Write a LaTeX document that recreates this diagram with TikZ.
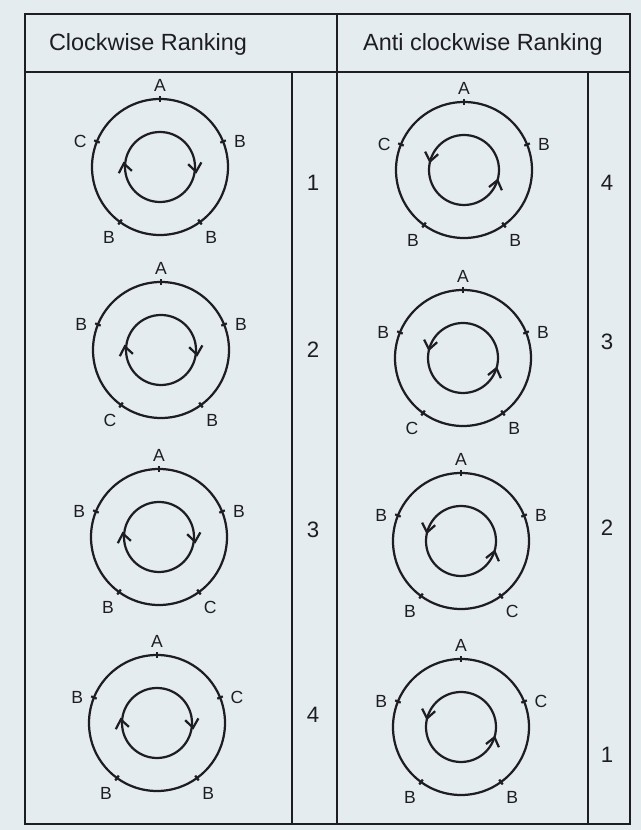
\documentclass[tikz,border=0pt]{standalone}
\usepackage{fontspec}
\setmainfont{Liberation Sans}
\usetikzlibrary{arrows.meta,decorations.markings}
\definecolor{rankink}{RGB}{30,30,34}
\definecolor{rankpaper}{RGB}{228,236,240}

\begin{document}
\begin{tikzpicture}[
      x=0.03cm, y=0.03cm,
      >={Straight Barb[length=2.6mm,width=4mm]},
      frame/.style={draw=rankink, line width=2.1pt},
      ink/.style={draw=rankink, line width=1.9pt},
      lbl/.style={font=\fontsize{15}{18}\selectfont, text=rankink, inner sep=0pt},
      rank/.style={font=\fontsize{19}{22}\selectfont, text=rankink, inner sep=0pt},
      head/.style={font=\fontsize{20}{24}\selectfont, text=rankink, inner sep=0pt},
      cwring/.style={ink, postaction={decorate}, decoration={markings,
        mark=at position 0.022 with {\arrow{<}},
        mark=at position 0.528 with {\arrow{<}}}},
      acwring/.style={ink, postaction={decorate}, decoration={markings,
        mark=at position 0.469 with {\arrow{>}},
        mark=at position 0.961 with {\arrow{>}}}}
    ]
      \useasboundingbox[fill=rankpaper] (0,0) rectangle (641,830);

      % table frame
      \draw[frame] (25,816) rectangle (630,6);
      \draw[frame] (25,758) -- (630,758);
      \draw[frame] (337,816) -- (337,6);
      \draw[frame] (292,758) -- (292,6);
      \draw[frame] (588,758) -- (588,6);

      \node[head] (cwhead) at (148,786) {Clockwise Ranking};
      \node[head] (acwhead) at (483,786) {Anti clockwise Ranking};

      % clockwise column
      \foreach \n/\x/\y/\r/\l/\bl/\br/\ry/\k in {
          cwa/160/663/B/C/B/B/647/1,
          cwb/161/480/B/B/C/B/480/2,
          cwc/159/293/B/B/B/C/300/3,
          cwd/157/107/C/B/B/B/115/4}{
        \draw[ink] (\x,\y) circle (68);
        \draw[cwring] (\x,\y) circle (35);
        \foreach \a in {90,22,158,234,306}
          \draw[ink] (\x,\y) ++(\a:65) -- ++(\a:6);
        \node[lbl] (\n-A) at ([shift={(90:82)}]\x,\y) {A};
        \node[lbl] (\n-r) at ([shift={(18:84)}]\x,\y) {\r};
        \node[lbl] (\n-l) at ([shift={(162:84)}]\x,\y) {\l};
        \node[lbl] (\n-bl) at ([shift={(234:87)}]\x,\y) {\bl};
        \node[lbl] (\n-br) at ([shift={(306:87)}]\x,\y) {\br};
        \node[rank] (\n-rank) at (313,\ry) {\k};
      }

      % anticlockwise column
      \foreach \n/\x/\y/\r/\l/\bl/\br/\ry/\k in {
          acwa/464/660/B/C/B/B/647/4,
          acwb/463/472/B/B/C/B/488/3,
          acwc/461/289/B/B/B/C/302/2,
          acwd/461/103/C/B/B/B/75/1}{
        \draw[ink] (\x,\y) circle (68);
        \draw[acwring] (\x,\y) circle (35);
        \foreach \a in {90,22,158,234,306}
          \draw[ink] (\x,\y) ++(\a:65) -- ++(\a:6);
        \node[lbl] (\n-A) at ([shift={(90:82)}]\x,\y) {A};
        \node[lbl] (\n-r) at ([shift={(18:84)}]\x,\y) {\r};
        \node[lbl] (\n-l) at ([shift={(162:84)}]\x,\y) {\l};
        \node[lbl] (\n-bl) at ([shift={(234:87)}]\x,\y) {\bl};
        \node[lbl] (\n-br) at ([shift={(306:87)}]\x,\y) {\br};
        \node[rank] (\n-rank) at (607,\ry) {\k};
      }
    \end{tikzpicture}
\end{document}
